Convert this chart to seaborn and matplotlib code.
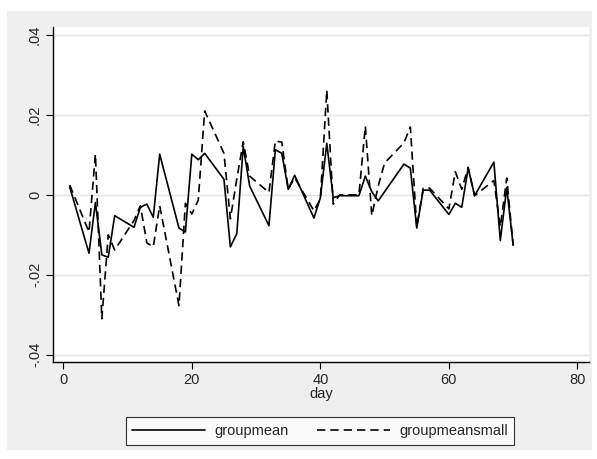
import matplotlib
matplotlib.use("Agg")
import matplotlib.pyplot as plt
import seaborn as sns
import pandas as pd
from matplotlib.patches import Rectangle
from matplotlib.lines import Line2D

day_mean = [1, 4, 5, 6, 7, 8, 11, 12, 13, 14, 15, 18, 19, 20, 21, 22, 25, 26, 27, 28, 29,
            32, 33, 34, 35, 36, 39, 40, 41, 42, 43, 46, 47, 48, 49, 53, 54, 55, 56, 57,
            60, 61, 62, 63, 64, 67, 68, 69, 70]
groupmean = [0.0020, -0.0146, -0.0019, -0.0150, -0.0156, -0.0052, -0.0081, -0.0031, -0.0023,
             -0.0056, 0.0102, -0.0083, -0.0093, 0.0102, 0.0088, 0.0104, 0.0039, -0.0130,
             -0.0097, 0.0121, 0.0022, -0.0077, 0.0113, 0.0104, 0.0014, 0.0049, -0.0058,
             -0.0007, 0.0129, -0.0007, -0.0002, -0.0002, 0.0047, 0.0008, -0.0015, 0.0077,
             0.0067, -0.0083, 0.0012, 0.0012, -0.0049, -0.0021, -0.0031, 0.0067, -0.0002,
             0.0082, -0.0114, 0.0018, -0.0126]

day_small = [1, 4, 5, 6, 7, 8, 11, 12, 13, 14, 15, 18, 19, 20, 21, 22, 25, 26, 27, 28, 29,
             32, 33, 34, 35, 36, 39, 40, 41, 42, 43, 46, 47, 48, 49, 50, 53, 54, 55, 56, 57,
             60, 61, 62, 63, 64, 67, 68, 69, 70]
groupmeansmall = [0.0025, -0.0093, 0.0102, -0.0310, -0.0100, -0.0138, -0.0064, -0.0027,
                  -0.0120, -0.0130, -0.0027, -0.0277, -0.0021, -0.0048, -0.0013, 0.0210,
                  0.0104, -0.0060, 0.0040, 0.0133, 0.0047, 0.0006, 0.0135, 0.0132, 0.0014,
                  0.0043, -0.0040, -0.0010, 0.0262, -0.0023, 0.0000, 0.0000, 0.0172,
                  -0.0052, 0.0022, 0.0080, 0.0130, 0.0170, -0.0080, 0.0017, 0.0017,
                  -0.0035, 0.0058, 0.0014, 0.0069, -0.0002, 0.0036, -0.0080, 0.0042, -0.0126]

x_ticks = [0, 20, 40, 60, 80]
y_ticks = [-0.04, -0.02, 0, 0.02, 0.04]
y_tick_labels = ["-.04", "-.02", "0", ".02", ".04"]
series_names = ["groupmean", "groupmeansmall"]

df = pd.concat([
    pd.DataFrame({"day": day_mean, "value": groupmean, "series": series_names[0]}),
    pd.DataFrame({"day": day_small, "value": groupmeansmall, "series": series_names[1]}),
])

sns.set_theme(style="white")
plt.rcParams["font.family"] = ["Liberation Sans", "DejaVu Sans"]

fig = plt.figure(figsize=(5.97, 4.59), dpi=100)
fig.patch.set_facecolor("white")
fig.add_artist(Rectangle((7 / 597, 1 - 450 / 459), (592 - 7) / 597, (450 - 11) / 459,
                         transform=fig.transFigure, facecolor="#efefef", edgecolor="none", zorder=0))

ax = fig.add_axes([53 / 597, 1 - 362 / 459, (589 - 53) / 597, (362 - 27) / 459])
ax.set_facecolor("white")

sns.lineplot(data=df, x="day", y="value", hue="series", style="series",
             palette={series_names[0]: "black", series_names[1]: "black"},
             dashes={series_names[0]: "", series_names[1]: (5, 3)},
             linewidth=1.2, ax=ax, legend=False, estimator=None, sort=True)

ax.set_xlim(-1.6, 81.8)
ax.set_ylim(-0.0418, 0.042)
ax.set_xticks(x_ticks)
ax.set_xticklabels([str(t) for t in x_ticks], fontsize=10.5)
ax.set_yticks(y_ticks)
ax.set_yticklabels(y_tick_labels, fontsize=10.5, rotation=90, va="center")
ax.yaxis.grid(True, color="#e4e4e4", linewidth=1.0)
ax.xaxis.grid(False)
ax.set_axisbelow(True)
for s in ["top", "right"]:
    ax.spines[s].set_visible(False)
for s in ["left", "bottom"]:
    ax.spines[s].set_color("black")
    ax.spines[s].set_linewidth(1.0)
ax.tick_params(axis="both", direction="out", length=5, width=0.8, color="black",
               bottom=True, left=True, pad=3)
ax.set_xlabel("day", fontsize=10.5, labelpad=0)
ax.set_ylabel("")

handles = [Line2D([0], [0], color="black", lw=1.2, linestyle="-"),
           Line2D([0], [0], color="black", lw=1.2, linestyle=(0, (5, 3)))]
leg = fig.legend(handles, series_names, loc="center", bbox_to_anchor=(320 / 597, 1 - 431 / 459),
                 ncol=2, frameon=True, fancybox=False, fontsize=10.5, handlelength=5.0,
                 columnspacing=2.0, borderpad=0.45, handletextpad=0.6)
leg.get_frame().set_edgecolor("black")
leg.get_frame().set_linewidth(0.8)
leg.get_frame().set_facecolor("white")

fig.savefig("out.png", dpi=100, facecolor=fig.get_facecolor())
